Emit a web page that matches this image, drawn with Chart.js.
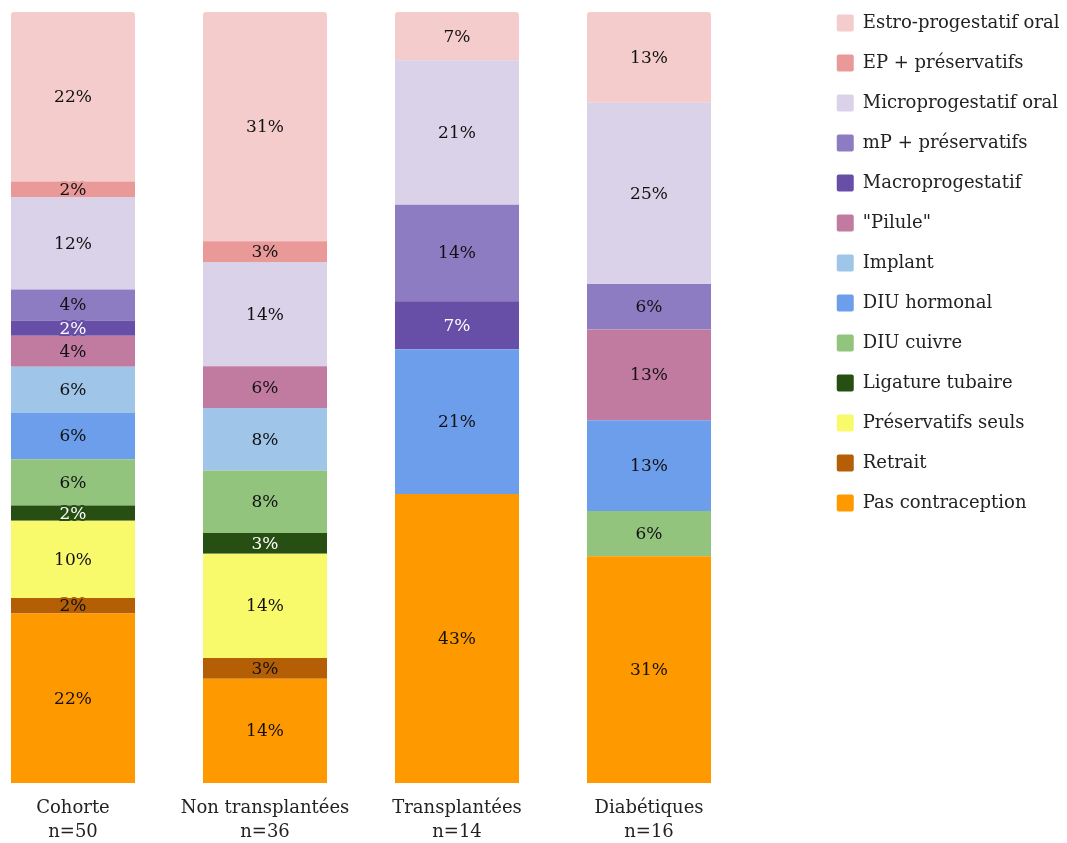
<!DOCTYPE html>
<html>
<head>
<meta charset="utf-8">
<script src="https://cdn.jsdelivr.net/npm/chart.js@4"></script>
<style>
html, body { margin: 0; padding: 0; background: #ffffff; }
#wrap { width: 1067px; height: 843px; position: relative; }
</style>
</head>
<body>
<div id="wrap"><canvas id="c"></canvas></div>
<script>
// ---- Data (counts per group) ----
const categories = ['Cohorte', 'Non transplantées', 'Transplantées', 'Diabétiques'];
const groupN = [50, 36, 14, 16];

const seriesNames = [
  'Estro-progestatif oral', 'EP + préservatifs', 'Microprogestatif oral', 'mP + préservatifs',
  'Macroprogestatif', '"Pilule"', 'Implant', 'DIU hormonal', 'DIU cuivre',
  'Ligature tubaire', 'Préservatifs seuls', 'Retrait', 'Pas contraception'
];
const estroProgestatif = [11, 11, 1, 2];
const epPreservatifs   = [1, 1, 0, 0];
const microprogestatif = [6, 5, 3, 4];
const mpPreservatifs   = [2, 0, 2, 1];
const macroprogestatif = [1, 0, 1, 0];
const pilule           = [2, 2, 0, 2];
const implant          = [3, 3, 0, 0];
const diuHormonal      = [3, 0, 3, 2];
const diuCuivre        = [3, 3, 0, 1];
const ligatureTubaire  = [1, 1, 0, 0];
const preservatifsSeuls= [5, 5, 0, 0];
const retrait          = [1, 1, 0, 0];
const pasContraception = [11, 5, 6, 5];

const seriesCounts = [estroProgestatif, epPreservatifs, microprogestatif, mpPreservatifs,
  macroprogestatif, pilule, implant, diuHormonal, diuCuivre, ligatureTubaire,
  preservatifsSeuls, retrait, pasContraception];

const seriesColors = ['#f4cccc', '#ea9999', '#d9d2e9', '#8e7cc3', '#674ea7', '#c27ba0',
  '#9fc5e8', '#6d9eeb', '#93c47d', '#274e13', '#f9f96c', '#b45f06', '#ff9900'];
const labelColors = ['#111', '#111', '#111', '#111', '#fff', '#111',
  '#111', '#111', '#111', '#fff', '#111', '#111', '#111'];

const FONT = '"DejaVu Serif", "Liberation Serif", serif';
const PLOT_RIGHT = 649;   // right end of plotting area (px)

// totals per group (bars are shown as share of total answers)
const totals = categories.map((_, i) => seriesCounts.reduce((s, arr) => s + arr[i], 0));

// datasets: bottom of stack first -> reverse order
const datasets = [];
for (let k = seriesNames.length - 1; k >= 0; k--) {
  datasets.push({
    label: seriesNames[k],
    data: seriesCounts[k].map((c, i) => c / totals[i] * 100),
    counts: seriesCounts[k],
    labelColor: labelColors[k],
    backgroundColor: seriesColors[k],
    borderWidth: 0,
    borderRadius: k === 0 ? {topLeft: 3, topRight: 3, bottomLeft: 0, bottomRight: 0} : 0,
    borderSkipped: false,
    clip: false
  });
}

const segLabels = {
  id: 'segLabels',
  afterDatasetsDraw(chart) {
    const ctx = chart.ctx;
    chart.data.datasets.forEach((ds, di) => {
      const meta = chart.getDatasetMeta(di);
      meta.data.forEach((bar, i) => {
        const c = ds.counts[i];
        if (!c) return;
        const text = Math.round(c / groupN[i] * 100) + '%';
        const p = bar.getProps(['x', 'y', 'base'], true);
        const cy = (p.y + p.base) / 2 + 1;
        ctx.save();
        ctx.font = '17px ' + FONT;
        ctx.textAlign = 'center';
        ctx.textBaseline = 'middle';
        ctx.lineJoin = 'round';
        ctx.lineWidth = 4;
        ctx.strokeStyle = ds.backgroundColor;
        ctx.strokeText(text, p.x, cy);
        ctx.fillStyle = ds.labelColor;
        ctx.fillText(text, p.x, cy);
        ctx.restore();
      });
    });
  }
};

const legendShift = {
  id: 'legendShift',
  afterLayout(chart) {
    const lg = chart.legend;
    if (!lg) return;
    lg.top -= 20;
    lg.bottom -= 20;
  }
};

new Chart(document.getElementById('c'), {
  type: 'bar',
  data: {
    labels: categories.map((c, i) => [c, 'n=' + groupN[i]]),
    datasets: datasets
  },
  options: {
    responsive: true,
    maintainAspectRatio: false,
    animation: false,
    layout: { padding: { top: 12, left: 73, right: 5, bottom: 0 } },
    datasets: { bar: { categoryPercentage: 1, barPercentage: 0.646 } },
    scales: {
      x: {
        stacked: true,
        offset: false,
        grid: { display: false, drawTicks: false },
        border: { display: false },
        ticks: { color: '#222', font: { family: FONT, size: 18, lineHeight: '24px' }, padding: 13, maxRotation: 0, autoSkip: false },
        afterFit: (s) => { s.height = 60; }
      },
      y: {
        stacked: true,
        position: 'right',
        min: 0, max: 100,
        grid: { display: false, drawTicks: false },
        border: { display: false },
        ticks: { display: false },
        afterFit: (s) => {
          const lg = s.chart.legend;
          const lw = lg ? lg.width : 254;
          s.width = Math.max(0, s.chart.width - 5 - lw - PLOT_RIGHT);
        }
      }
    },
    plugins: {
      legend: {
        position: 'right',
        align: 'start',
        reverse: true,
        labels: {
          color: '#222',
          font: { family: FONT, size: 18 },
          boxWidth: 17,
          boxHeight: 17,
          padding: 22,
          useBorderRadius: true,
          borderRadius: 2
        }
      },
      tooltip: { enabled: false }
    }
  },
  plugins: [segLabels, legendShift]
});
</script>
</body>
</html>
